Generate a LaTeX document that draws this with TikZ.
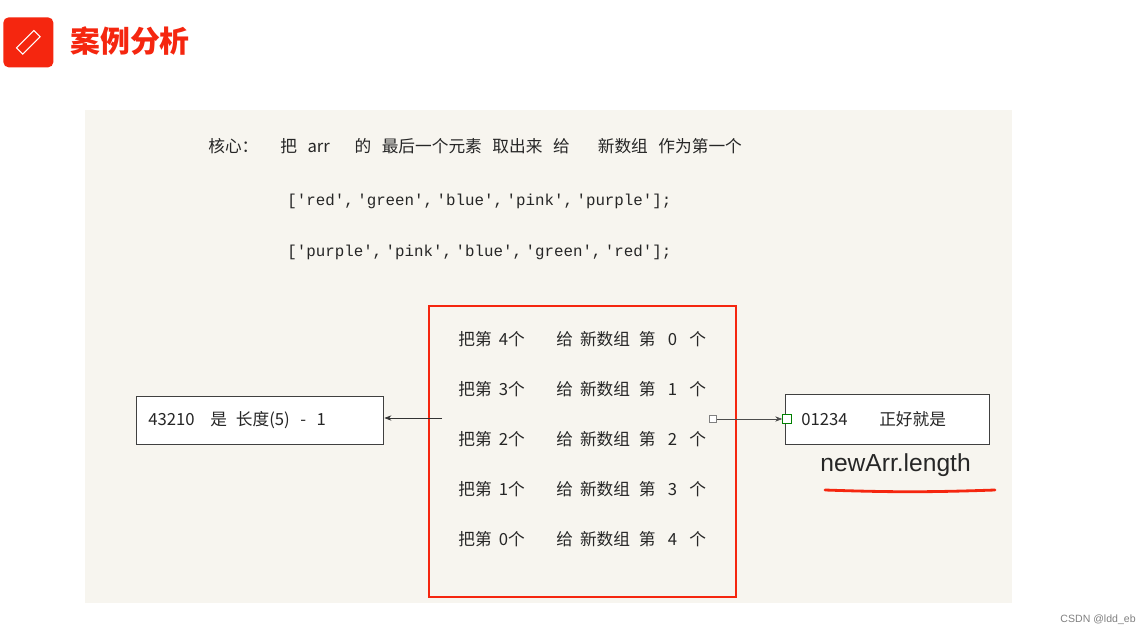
\documentclass[tikz,border=0pt]{standalone}
\usepackage{fontspec}
\setmainfont{Liberation Serif}
\newfontfamily\cjk{Noto Sans CJK SC}
\usetikzlibrary{positioning, arrows.meta}
\definecolor{titlered}{HTML}{F5260F}
\definecolor{panel}{HTML}{F7F5EF}
\tikzset{
  txt/.style={anchor=west, inner sep=0pt, font=\cjk\fontsize{9.5}{11}\selectfont, text=black!85},
  code/.style={anchor=west, inner sep=0pt, font=\fontspec{Liberation Mono}\fontsize{9}{11}\selectfont, text=black!85},
  row/.style={txt},
  box/.style={draw=black!75, fill=white, thick, minimum height=0.96cm, anchor=north west}
}
\newcommand\gap[1]{\hspace{#1pt}}
\begin{document}
\begin{tikzpicture}[x=0.02cm, y=-0.02cm]
    \useasboundingbox (0,0) rectangle (1144,636);
    \fill[white] (0,0) rectangle (1144,636);
    % header
    \node[fill=titlered, rounded corners=3pt, minimum size=1cm, anchor=north west, inner sep=0pt] (icon) at (3,17) {};
    \draw[white, line width=0.6pt, rotate around={45:(icon.center)}] ([xshift=-7pt, yshift=-2.5pt]icon.center) rectangle ([xshift=7pt, yshift=2.5pt]icon.center);
    \node[anchor=west, inner sep=0pt, font=\cjk\bfseries\fontsize{17}{20}\selectfont, text=titlered] (title) at (70,41) {案例分析};
    % panel
    \fill[panel] (85,110) rectangle (1012,603);
    \node[txt] (core) at (208,146) {核心：};
    \node[txt] (goal) at (280,146) {把\gap{6}arr\gap{14}的\gap{6}最后一个元素\gap{6}取出来\gap{6}给\gap{16}新数组\gap{6}作为第一个};
    \node[code] (arr1) at (287,201) {['red',\gap{2}'green',\gap{2}'blue',\gap{2}'pink',\gap{2}'purple'];};
    \node[code] (arr2) at (287,252) {['purple',\gap{2}'pink',\gap{2}'blue',\gap{2}'green',\gap{2}'red'];};
    % red box
    \draw[titlered, line width=1.6pt] (429,306) rectangle (736,597);
    \foreach \i/\j [count=\k from 0] in {4/0,3/1,2/2,1/3,0/4}
        \node[row] (r\k) at (458,339+50*\k) {把第\gap{4}\i 个\gap{18}给\gap{4}新数组\gap{5}第\gap{7}\j\gap{7}个};
    % side boxes
    \node[box, minimum width=4.94cm] (left) at (136,396) {};
    \node[txt] (lefttxt) at (148,420) {43210\gap{9}是\gap{5}长度(5)\gap{6}-\gap{6}1};
    \node[box, minimum width=4.08cm, minimum height=1cm] (right) at (785,394) {};
    \node[txt] (righttxt) at (801,419) {01234\gap{18}正好就是};
    \coordinate (lstart) at (442,418);
    \draw[-{Stealth[length=4pt]}, black!80] (lstart) -- (left.east |- lstart);
    \node[draw=gray, fill=white, minimum size=4pt, inner sep=0pt] (sq1) at (713,419) {};
    \node[draw=green!50!black, fill=white, minimum size=5pt, inner sep=0pt] (sq2) at (787,419) {};
    \draw[-{Stealth[length=4pt]}, black!70] (sq1) -- (sq2);
    \node[anchor=west, inner sep=0pt, font=\fontspec{Liberation Sans}\fontsize{14}{16}\selectfont, text=black!85] (len) at (820,465) {newArr.length};
    \draw[titlered, line width=1.6pt, line cap=round] (825,490) to[bend right=2] (995,490);
    \node[anchor=east, inner sep=0pt, font=\fontspec{Liberation Sans}\fontsize{6}{7}\selectfont, text=gray] (mark) at (1136,620) {CSDN @ldd\_eb};
\end{tikzpicture}
\end{document}
